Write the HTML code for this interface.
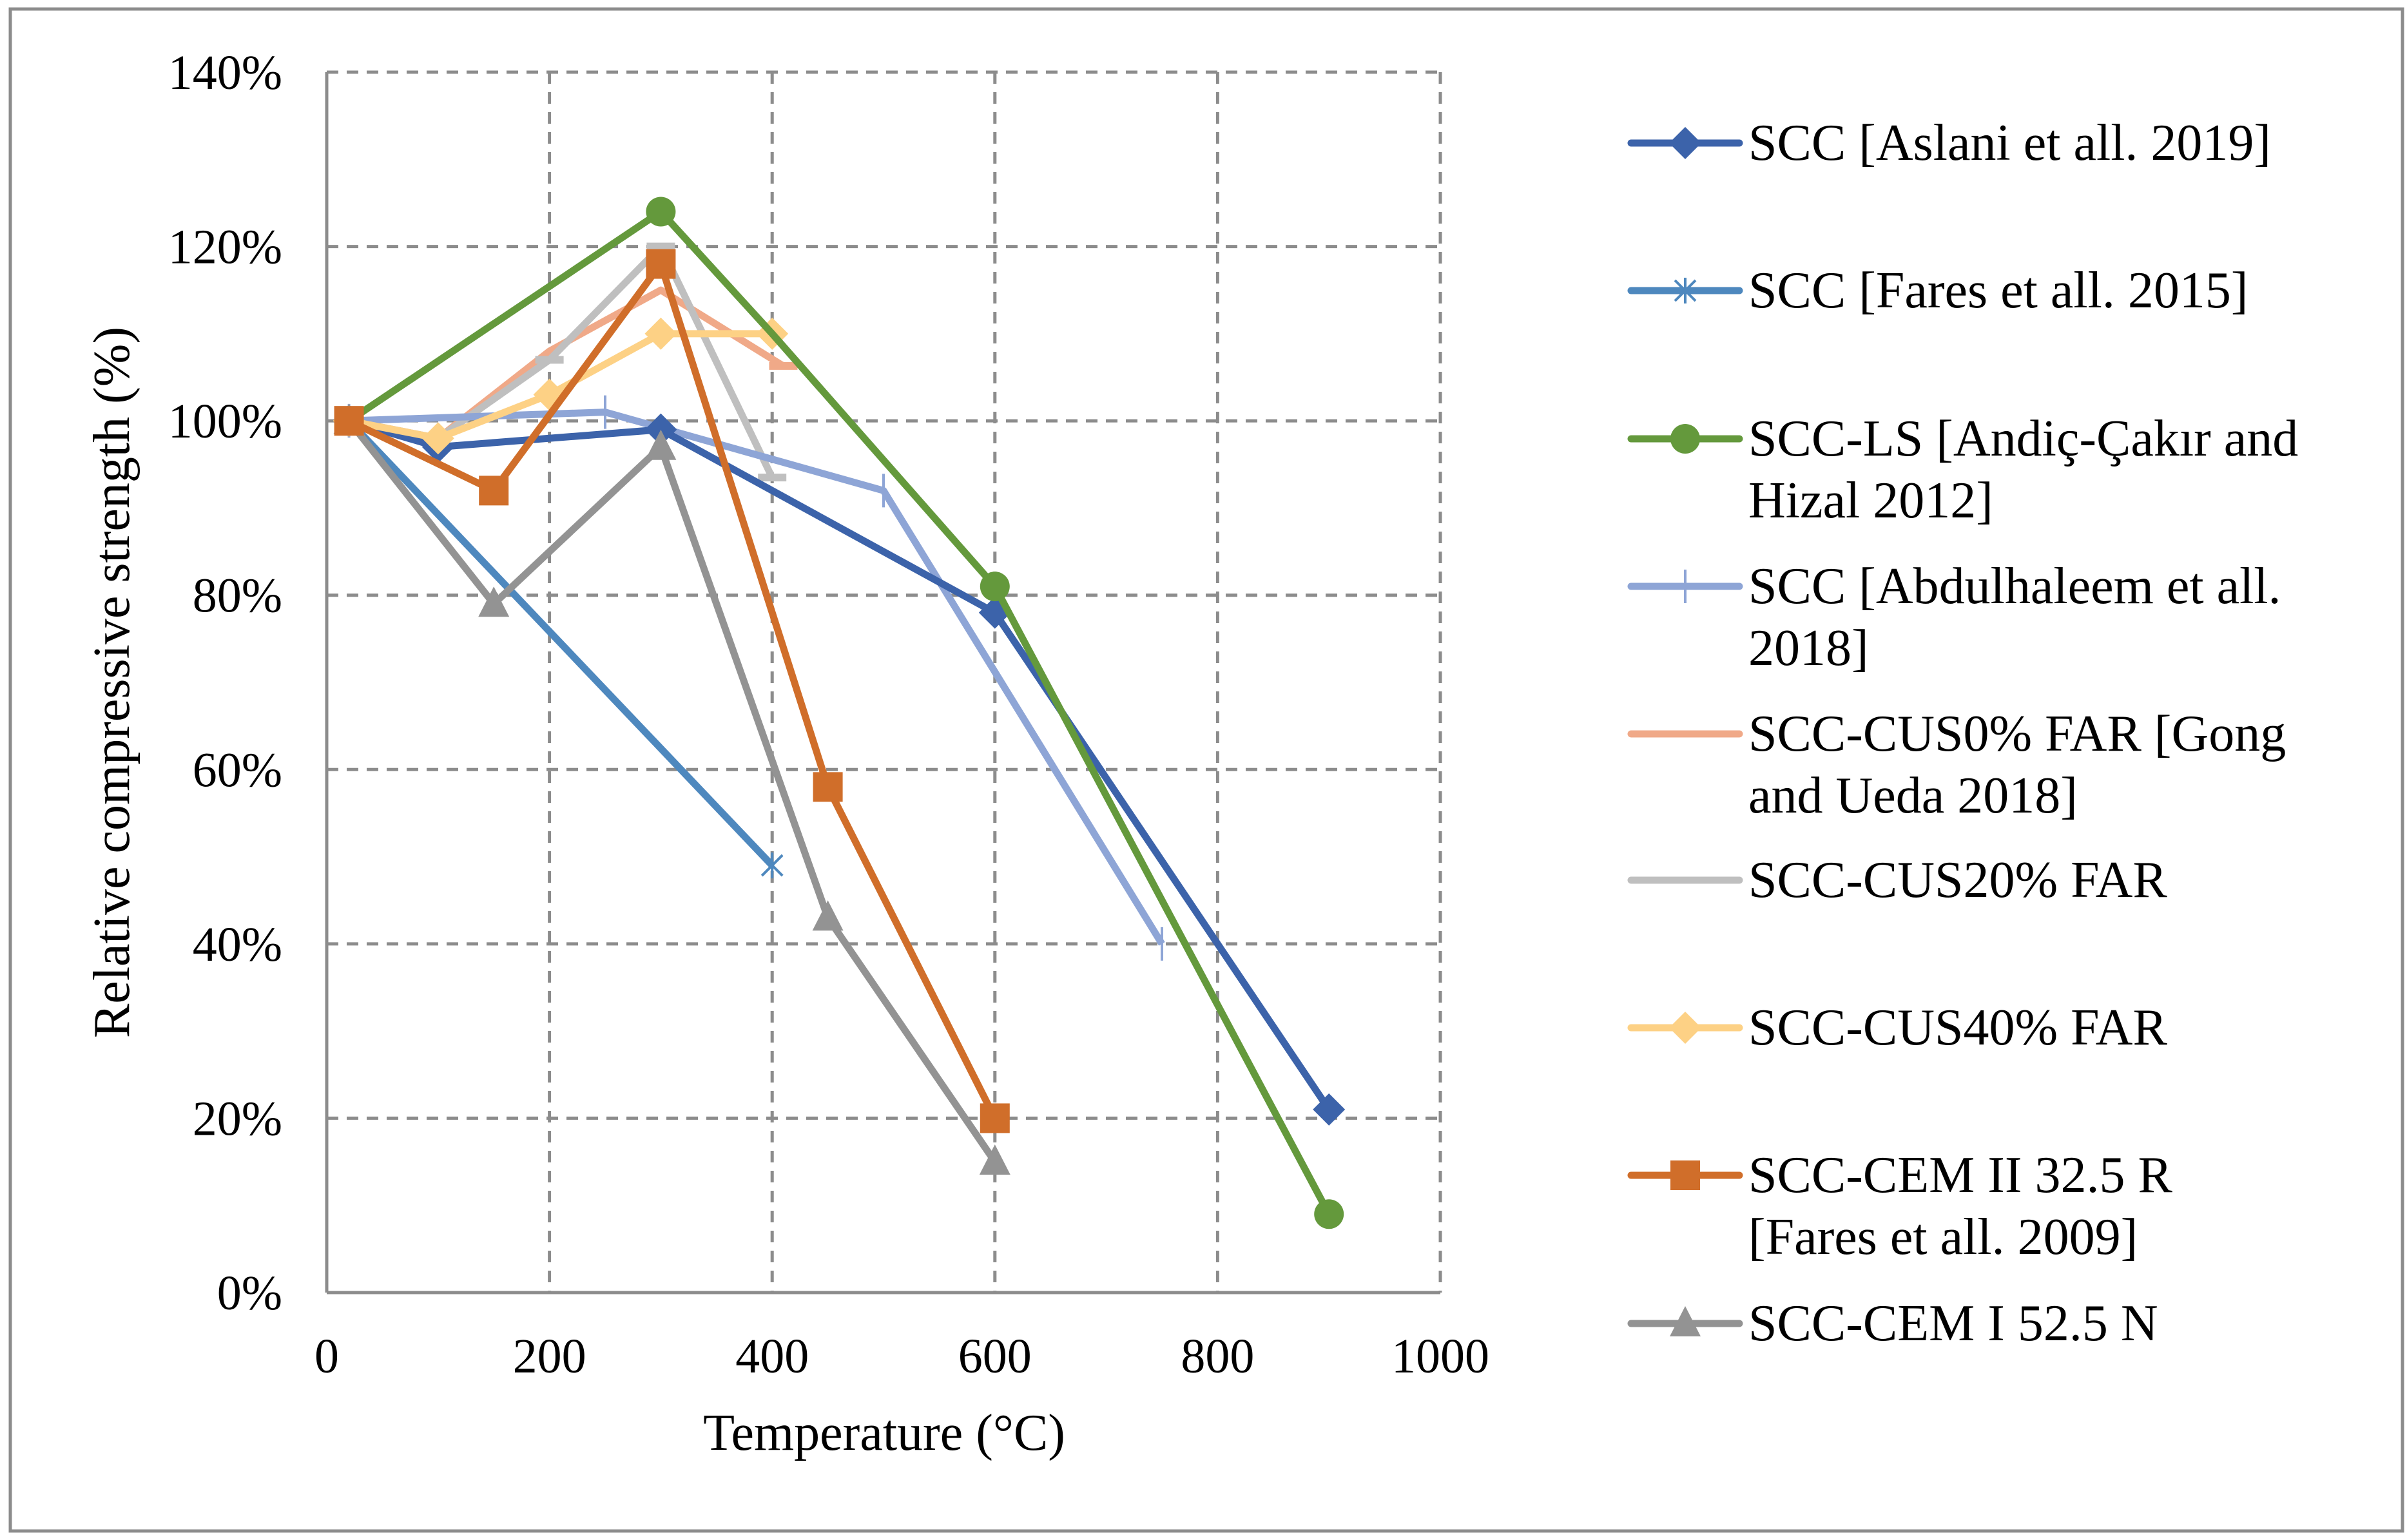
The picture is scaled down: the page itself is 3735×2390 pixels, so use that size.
<!DOCTYPE html>
<html>
<head>
<meta charset="utf-8">
<style>
html,body{margin:0;padding:0;background:#fff;}
svg{display:block;}
svg text{font-family:"Liberation Serif","DejaVu Serif",serif;}
</style>
</head>
<body>
<svg id="chart" width="3735" height="2390" viewBox="0 0 3735 2390" xmlns="http://www.w3.org/2000/svg">
<rect x="16" y="14" width="3712" height="2362" fill="#fff" stroke="#8c8c8c" stroke-width="5"/>
<g id="grid"></g>
<g id="axes"></g>
<g id="series"></g>
<g id="legend"></g>
</svg>
<script>
const xTicks = [0, 200, 400, 600, 800, 1000];
const yTicks = [0, 20, 40, 60, 80, 100, 120, 140];
const seriesNames = ["SCC [Aslani et all. 2019]","SCC [Fares et all. 2015]","SCC-LS [Andiç-Çakır and|Hizal 2012]","SCC [Abdulhaleem et all.|2018]","SCC-CUS0% FAR [Gong|and Ueda 2018]","SCC-CUS20% FAR","SCC-CUS40% FAR","SCC-CEM II 32.5 R|[Fares et all. 2009]","SCC-CEM I 52.5 N"];
const aslaniX = [20,100,300,600,900];       const aslaniY = [100,97,99,78,21];
const fares15X = [20,400];                  const fares15Y = [100,49];
const andicX = [20,300,400,600,900];        const andicY = [100,124,110,81,9];
const abdulX = [20,250,500,750];            const abdulY = [100,101,92,40];
const cus0X = [20,100,200,300,410];         const cus0Y = [100,98,108,115,106.3];
const cus20X = [20,100,200,300,400];        const cus20Y = [100,98,107,120,93.5];
const cus40X = [20,100,200,300,400];        const cus40Y = [100,98,103,110,110];
const cem2X = [20,150,300,450,600];         const cem2Y = [100,92,118,58,20];
const cem1X = [20,150,300,450,600];         const cem1Y = [100,79,97,43,15];

const L=507,R=2235,T=112,B=2006;
const xs=v=>L+(v-0)/1000*(R-L);
const ys=v=>B-(v/140)*(B-T);
const NS="http://www.w3.org/2000/svg";
const FF='"Liberation Serif","DejaVu Serif",serif';
function mk(tag,attrs,parent){const e=document.createElementNS(NS,tag);for(const k in attrs)e.setAttribute(k,attrs[k]);parent.appendChild(e);return e;}
const grid=document.getElementById('grid'),axes=document.getElementById('axes'),ser=document.getElementById('series'),leg=document.getElementById('legend');

yTicks.forEach(t=>{
  if(t>0){const g=mk('line',{x1:L,x2:R,y1:ys(t),y2:ys(t),stroke:'#8c8c8c','stroke-width':5,'stroke-dasharray':'18,13'},grid);
  
  }
  const tx=mk('text',{x:438,y:ys(t)+26,'text-anchor':'end','font-size':76,fill:'#000','font-family':FF},axes);
  tx.textContent=t+'%';
  
  
});
xTicks.forEach(t=>{
  if(t>0){const g=mk('line',{x1:xs(t),x2:xs(t),y1:T,y2:B,stroke:'#8c8c8c','stroke-width':5,'stroke-dasharray':'18,13'},grid);
  
  }
  const tx=mk('text',{x:xs(t),y:2130,'text-anchor':'middle','font-size':76,fill:'#000','font-family':FF},axes);
  tx.textContent=t;
  
  
});
let a=mk('line',{x1:L,x2:L,y1:T,y2:B,stroke:'#8c8c8c','stroke-width':5},axes);


a=mk('line',{x1:L,x2:R,y1:B,y2:B,stroke:'#8c8c8c','stroke-width':5},axes);


let t1=mk('text',{x:1372,y:2250,'text-anchor':'middle','font-size':80,fill:'#000','font-family':FF},axes);
t1.textContent='Temperature (°C)';


let t2=mk('text',{x:0,y:0,'text-anchor':'middle','font-size':80,fill:'#000','font-family':FF,transform:'translate(200,1059) rotate(-90)'},axes);
t2.textContent='Relative compressive strength (%)';



function marker(type,x,y,c,p){
  let e;
  if(type==='diamond')e=mk('polygon',{points:`${x},${y-25} ${x+25},${y} ${x},${y+25} ${x-25},${y}`,fill:c},p);
  else if(type==='circle')e=mk('circle',{cx:x,cy:y,r:23,fill:c},p);
  else if(type==='square')e=mk('rect',{x:x-23,y:y-23,width:46,height:46,fill:c},p);
  else if(type==='triangle')e=mk('polygon',{points:`${x},${y-27} ${x+24},${y+20} ${x-24},${y+20}`,fill:c},p);
  else if(type==='star'){e=mk('path',{d:`M${x-16},${y-16}L${x+16},${y+16}M${x+16},${y-16}L${x-16},${y+16}M${x},${y-20}L${x},${y+20}`,stroke:c,'stroke-width':4},p);}
  else if(type==='plus'){e=mk('path',{d:`M${x},${y-26}L${x},${y+26}`,stroke:c,'stroke-width':4},p);}
  else if(type==='dash'){e=mk('rect',{x:x-22,y:y-6,width:44,height:12,fill:c},p);}
  else return;
  
  
}
const defs=[
 [cus0X,cus0Y,'#F0A988','dash0','cus0'],
 [cus20X,cus20Y,'#BFBFBF','dash','cus20'],
 [abdulX,abdulY,'#8EA5D6','plus','abdulhaleem'],
 [aslaniX,aslaniY,'#3C63AA','diamond','aslani'],
 [fares15X,fares15Y,'#4E88BE','star','fares-2015'],
 [cus40X,cus40Y,'#FDD185','diamond','cus40'],
 [andicX,andicY,'#64993C','circle','andic-cakir'],
 [cem1X,cem1Y,'#939393','triangle','cem-i'],
 [cem2X,cem2Y,'#D06E2A','square','cem-ii'],
];
defs.forEach(([X,Y,c,m,n])=>{
  const g=mk('g',{},ser);
  
  
  const pts=X.map((x,i)=>xs(x)+','+ys(Y[i])).join(' ');
  const pl=mk('polyline',{points:pts,fill:'none',stroke:c,'stroke-width':11,'stroke-linejoin':'round'},g);
  
  
  X.forEach((x,i)=>{
    if(m==='dash0'){ if(i===X.length-1) marker('dash',xs(x),ys(Y[i]),c,g); }
    else if(m==='dash'){ if(i>=2) marker('dash',xs(x),ys(Y[i]),c,g); }
    else if(m==='circle' && x===400){}
    else marker(m,xs(x),ys(Y[i]),c,g);
  });
});

const legRows=[222,451,681,910,1139,1366,1595,1824,2054];
const legStyle=[['#3C63AA','diamond'],['#4E88BE','star'],['#64993C','circle'],['#8EA5D6','plus'],['#F0A988',''],['#BFBFBF',''],['#FDD185','diamond'],['#D06E2A','square'],['#939393','triangle']];
seriesNames.forEach((name,i)=>{
  const y=legRows[i];
  const g=mk('g',{},leg);
  
  
  mk('line',{x1:2531,x2:2699,y1:y,y2:y,stroke:legStyle[i][0],'stroke-width':11,'stroke-linecap':'round'},g);
  marker(legStyle[i][1],2615,y,legStyle[i][0],g);
  name.split('|').forEach((ln,j)=>{
    const tx=mk('text',{x:2713,y:y+26+j*96,'font-size':80,fill:'#000','font-family':FF},g);
    tx.textContent=ln;
    
    
  });
});
</script>
</body>
</html>
